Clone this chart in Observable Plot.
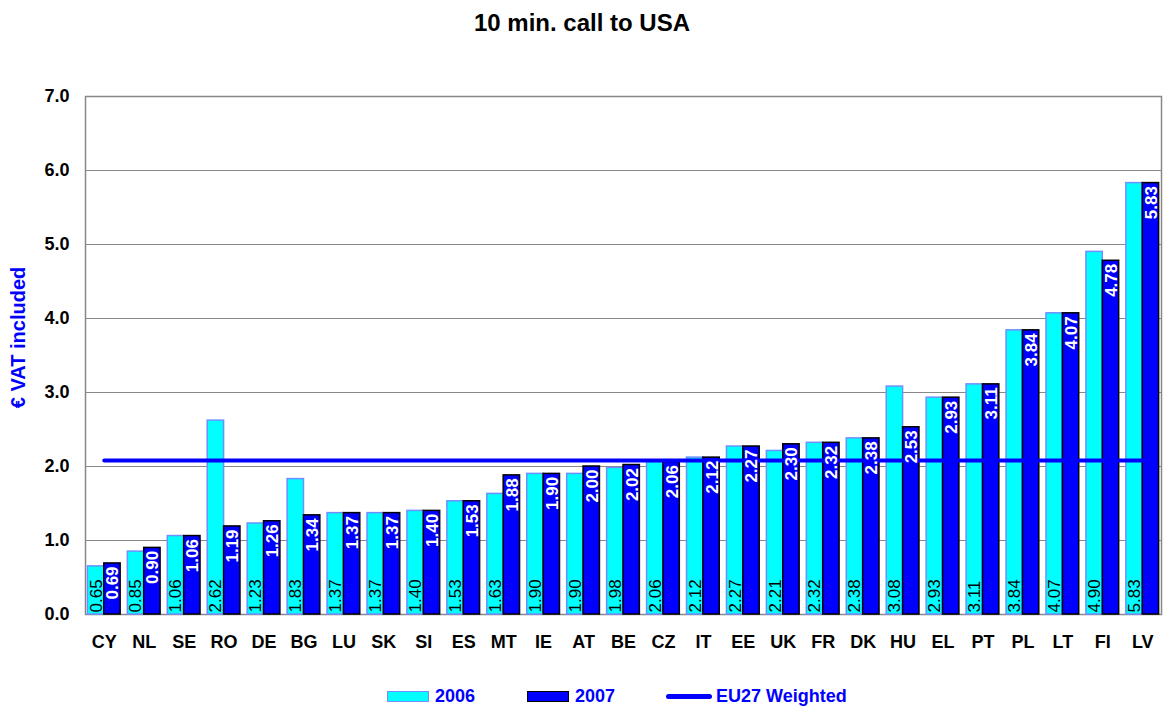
<!DOCTYPE html>
<html>
<head>
<meta charset="utf-8">
<script src="https://cdn.jsdelivr.net/npm/d3@7"></script>
<script src="https://cdn.jsdelivr.net/npm/@observablehq/plot@0.6"></script>
<style>
  body { margin: 0; background: #fff; font-family: Arial, "Liberation Sans", sans-serif; }
  #wrap { position: relative; width: 1164px; height: 709px; }
  #title { position: absolute; left: 0; top: 9px; width: 1164px; text-align: center; font-weight: bold; font-size: 24px; color: #000; }
  #chart { position: absolute; left: 0; top: 50px; }
  .leg { position: absolute; top: 686px; font-weight: bold; font-size: 18px; line-height: 21px; color: #0000ff; display: flex; align-items: center; }
  .sw { display: inline-block; width: 42px; height: 11px; margin-right: 6px; box-sizing: border-box; }
</style>
</head>
<body>
<div id="wrap">
  <div id="title">10 min. call to USA</div>
  <div id="chart"></div>
  <div class="leg" style="left:387px"><span class="sw" style="background:#00ffff;border:1.5px solid #6f8fff"></span>2006</div>
  <div class="leg" style="left:527px"><span class="sw" style="background:#0000ff;border:1.5px solid #000"></span>2007</div>
  <div class="leg" style="left:666px"><span class="sw" style="height:5px;background:#0000ff;border-radius:3px;width:46px;margin-right:4px"></span>EU27 Weighted</div>
</div>
<script>
const countries = ["CY","NL","SE","RO","DE","BG","LU","SK","SI","ES","MT","IE","AT","BE","CZ","IT","EE","UK","FR","DK","HU","EL","PT","PL","LT","FI","LV"];
const v2006 = [0.65,0.85,1.06,2.62,1.23,1.83,1.37,1.37,1.40,1.53,1.63,1.90,1.90,1.98,2.06,2.12,2.27,2.21,2.32,2.38,3.08,2.93,3.11,3.84,4.07,4.90,5.83];
const v2007 = [0.69,0.90,1.06,1.19,1.26,1.34,1.37,1.37,1.40,1.53,1.88,1.90,2.00,2.02,2.06,2.12,2.27,2.30,2.32,2.38,2.53,2.93,3.11,3.84,4.07,4.78,5.83];
const eu27Weighted = 2.08;
const yTicks = [0,1,2,3,4,5,6,7];
const yLabel = "€ VAT included";

const d06 = countries.map((c,i) => ({country:c, value:v2006[i]}));
const d07 = countries.map((c,i) => ({country:c, value:v2007[i]}));
const dLine = countries.map(c => ({country:c, value:eu27Weighted}));

const font = "Arial, 'Liberation Sans', sans-serif";

function build(bw) {
  const q = bw / 4;
  return Plot.plot({
    width: 1164, height: 620,
    marginLeft: 85, marginRight: 3, marginTop: 46, marginBottom: 56,
    style: {fontFamily: font, background: "#fff", overflow: "visible"},
    x: {domain: countries, paddingInner: 0.18, paddingOuter: 0.06, round: false, label: null},
    y: {domain: [0, 7], label: null},
    marks: [
      Plot.ruleY(yTicks, {stroke: "#888", strokeWidth: 1}),
      Plot.frame({stroke: "#888", strokeWidth: 1.5}),
      Plot.barY(d06, {x: "country", y: "value", fill: "#00ffff", stroke: "#6f8fff", strokeWidth: 1.5, insetRight: bw/2}),
      Plot.barY(d07, {x: "country", y: "value", fill: "#0000ff", stroke: "#000", strokeWidth: 1.5, insetLeft: bw/2}),
      Plot.line(dLine, {x: "country", y: "value", stroke: "#0000ff", strokeWidth: 4}),
      Plot.text(d06, {x: "country", y: 0, text: d => d.value.toFixed(2), rotate: -90, textAnchor: "start", dx: -q, dy: -2, fill: "#000", fontSize: 17}),
      Plot.text(d07, {x: "country", y: "value", text: d => d.value.toFixed(2), rotate: -90, textAnchor: "end", dx: q + 0.5, dy: 3, fill: "#fff", fontSize: 17, fontWeight: "bold"}),
      Plot.axisY(yTicks, {tickSize: 0, tickPadding: 16, tickFormat: d3.format(".1f"), fontSize: 18, fontWeight: "bold", fill: "#000", label: null}),
      Plot.axisX({tickSize: 0, tickPadding: 21, fontSize: 18, fontWeight: "bold", fill: "#000", label: null}),
      Plot.text([yLabel], {frameAnchor: "left", textAnchor: "middle", dx: -67, dy: -18, rotate: -90, fill: "#0000ff", fontSize: 20, fontWeight: "bold"})
    ]
  });
}
const first = build(30);
const bw = first.scale("x").bandwidth;
document.getElementById("chart").appendChild(build(bw));
</script>
</body>
</html>
